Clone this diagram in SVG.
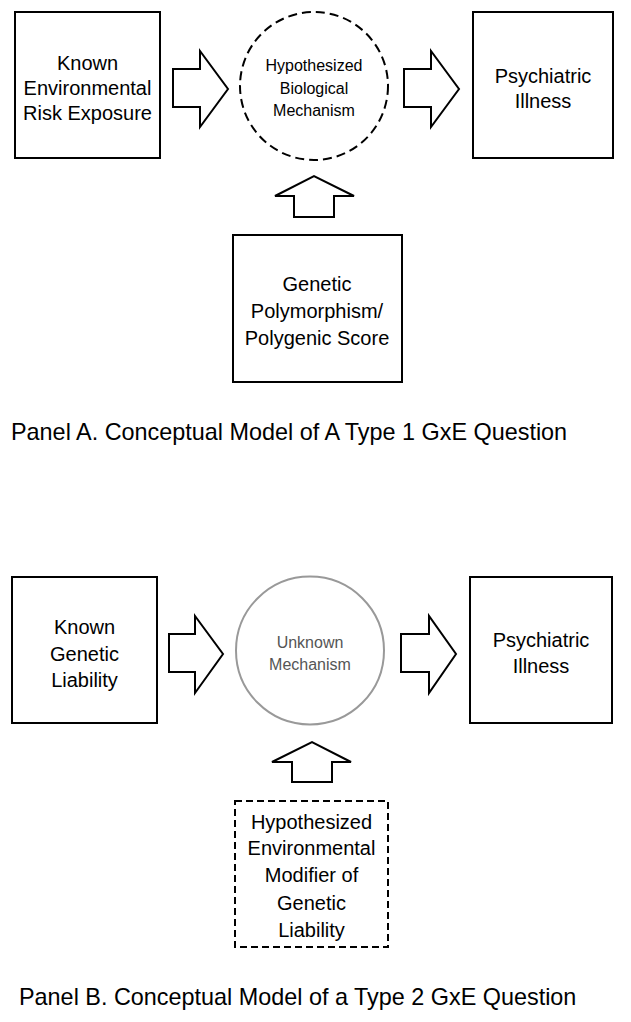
<svg xmlns="http://www.w3.org/2000/svg" width="631" height="1022" viewBox="0 0 631 1022">
<style>
.box{fill:#fff;stroke:#000;stroke-width:2}
.dbox{fill:#fff;stroke:#000;stroke-width:2;stroke-dasharray:7 4}
.dcirc{fill:#fff;stroke:#000;stroke-width:2;stroke-dasharray:9 5}
.gcirc{fill:#fff;stroke:#999;stroke-width:2}
.arr{fill:#fff;stroke:#000;stroke-width:2;stroke-linejoin:miter}
text{font-family:"Liberation Sans",Arial,sans-serif;text-anchor:middle;fill:#000}
.t20{font-size:20px}
.t16{font-size:16px}
.g{fill:#555}
.cap{font-size:23.4px;text-anchor:start}
</style>
<rect width="631" height="1022" fill="#fff"/>
<g id="connectors">
<polygon class="arr" points="173,69 200,69 200,51 228,89 200,127 200,107 173,107"/>
<polygon class="arr" points="404,69 431,69 431,51 459,89 431,127 431,107 404,107"/>
<polygon class="arr" points="294,217 294,196 275,196 314,176 354,196 334,196 334,217"/>
<polygon class="arr" points="169,634 195,634 195,616 223,654 195,693 195,672 169,672"/>
<polygon class="arr" points="401,634 429,634 429,616 456,654 429,693 429,672 401,672"/>
<polygon class="arr" points="292,782 292,762 272,762 312,742 351,762 332,762 332,782"/>
</g>
<g id="nodeA1">
<rect class="box" x="15" y="12" width="145" height="146"/>
<text class="t20" x="87.5" y="70">Known</text>
<text class="t20" x="87.5" y="95">Environmental</text>
<text class="t20" x="87.5" y="120">Risk Exposure</text>
</g>
<g id="nodeA2">
<circle class="dcirc" cx="314" cy="86" r="74"/>
<text class="t16" x="314" y="71">Hypothesized</text>
<text class="t16" x="314" y="94">Biological</text>
<text class="t16" x="314" y="116">Mechanism</text>
</g>
<g id="nodeA3">
<rect class="box" x="473" y="12" width="140" height="146"/>
<text class="t20" x="543" y="83">Psychiatric</text>
<text class="t20" x="543" y="108">Illness</text>
</g>
<g id="nodeA4">
<rect class="box" x="233" y="235" width="169" height="147"/>
<text class="t20" x="317" y="291">Genetic</text>
<text class="t20" x="317" y="318">Polymorphism/</text>
<text class="t20" x="317" y="345">Polygenic Score</text>
</g>
<g id="captionA">
<text class="cap" x="11" y="440">Panel A. Conceptual Model of A Type 1 GxE Question</text>
</g>
<g id="nodeB1">
<rect class="box" x="12" y="577" width="145" height="146"/>
<text class="t20" x="84.5" y="634">Known</text>
<text class="t20" x="84.5" y="661">Genetic</text>
<text class="t20" x="84.5" y="687">Liability</text>
</g>
<g id="nodeB2">
<circle class="gcirc" cx="310" cy="650.5" r="74"/>
<text class="t16 g" x="310" y="648">Unknown</text>
<text class="t16 g" x="310" y="670">Mechanism</text>
</g>
<g id="nodeB3">
<rect class="box" x="470" y="577" width="142" height="146"/>
<text class="t20" x="541" y="647">Psychiatric</text>
<text class="t20" x="541" y="673">Illness</text>
</g>
<g id="nodeB4">
<rect class="dbox" x="235" y="801" width="153" height="146"/>
<text class="t20" x="311.5" y="829">Hypothesized</text>
<text class="t20" x="311.5" y="855">Environmental</text>
<text class="t20" x="311.5" y="882">Modifier of</text>
<text class="t20" x="311.5" y="910">Genetic</text>
<text class="t20" x="311.5" y="937">Liability</text>
</g>
<g id="captionB">
<text class="cap" x="19" y="1005">Panel B. Conceptual Model of a Type 2 GxE Question</text>
</g>
</svg>
